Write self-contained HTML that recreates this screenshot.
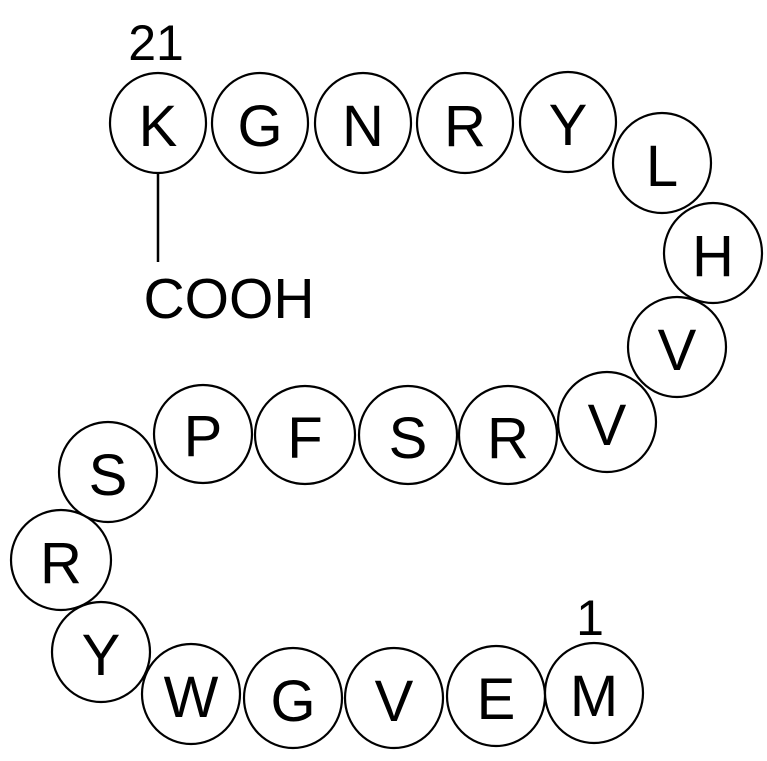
<!DOCTYPE html>
<html><head><style>html,body{margin:0;padding:0;background:#fff;}svg{display:block}</style></head>
<body>
<svg width="767" height="761" viewBox="0 0 767 761" xmlns="http://www.w3.org/2000/svg">
<g fill="#fff" stroke="#000" stroke-width="2.2">
<ellipse cx="158" cy="123" rx="48" ry="50"/>
<ellipse cx="260" cy="123" rx="48" ry="50"/>
<ellipse cx="363" cy="123" rx="48" ry="50"/>
<ellipse cx="465" cy="123" rx="48" ry="50"/>
<ellipse cx="568" cy="122" rx="48" ry="50"/>
<ellipse cx="662" cy="163" rx="49" ry="50"/>
<ellipse cx="713" cy="253" rx="49" ry="50"/>
<ellipse cx="677" cy="347" rx="49" ry="50"/>
<ellipse cx="607" cy="422" rx="49" ry="50"/>
<ellipse cx="508" cy="435" rx="49" ry="49"/>
<ellipse cx="408" cy="435" rx="49" ry="49"/>
<ellipse cx="305" cy="435" rx="50" ry="49"/>
<ellipse cx="203" cy="434" rx="49" ry="49"/>
<ellipse cx="108" cy="472" rx="49" ry="50"/>
<ellipse cx="61" cy="560" rx="50" ry="50"/>
<ellipse cx="101" cy="652" rx="49" ry="50"/>
<ellipse cx="191" cy="694" rx="49" ry="50"/>
<ellipse cx="293" cy="698" rx="49" ry="50"/>
<ellipse cx="394" cy="698" rx="49" ry="50"/>
<ellipse cx="496" cy="696" rx="49" ry="50"/>
<ellipse cx="594" cy="693" rx="49" ry="50"/>
</g>
<line x1="158" y1="173" x2="158" y2="262" stroke="#000" stroke-width="2.5"/>
<g font-family="Liberation Sans, Arial, sans-serif" font-size="58" text-anchor="middle" fill="#000">
<text x="158" y="146">K</text>
<text x="260" y="146">G</text>
<text x="363" y="146">N</text>
<text x="465" y="146">R</text>
<text x="568" y="145">Y</text>
<text x="662" y="186">L</text>
<text x="713" y="276">H</text>
<text x="677" y="370">V</text>
<text x="607" y="445">V</text>
<text x="508" y="458">R</text>
<text x="408" y="458">S</text>
<text x="305" y="458">F</text>
<text x="203" y="456">P</text>
<text x="108" y="495">S</text>
<text x="61" y="583">R</text>
<text x="101" y="675">Y</text>
<text x="191" y="717">W</text>
<text x="293" y="721">G</text>
<text x="394" y="721">V</text>
<text x="496" y="719">E</text>
<text x="594" y="716">M</text>
<text x="229" y="318" font-size="57">COOH</text>
</g>
<g font-family="Liberation Sans, Arial, sans-serif" font-size="50" text-anchor="middle" fill="#000">
<text x="156" y="60">21</text>
<text x="590" y="635">1</text>
</g>
</svg>
</body></html>
